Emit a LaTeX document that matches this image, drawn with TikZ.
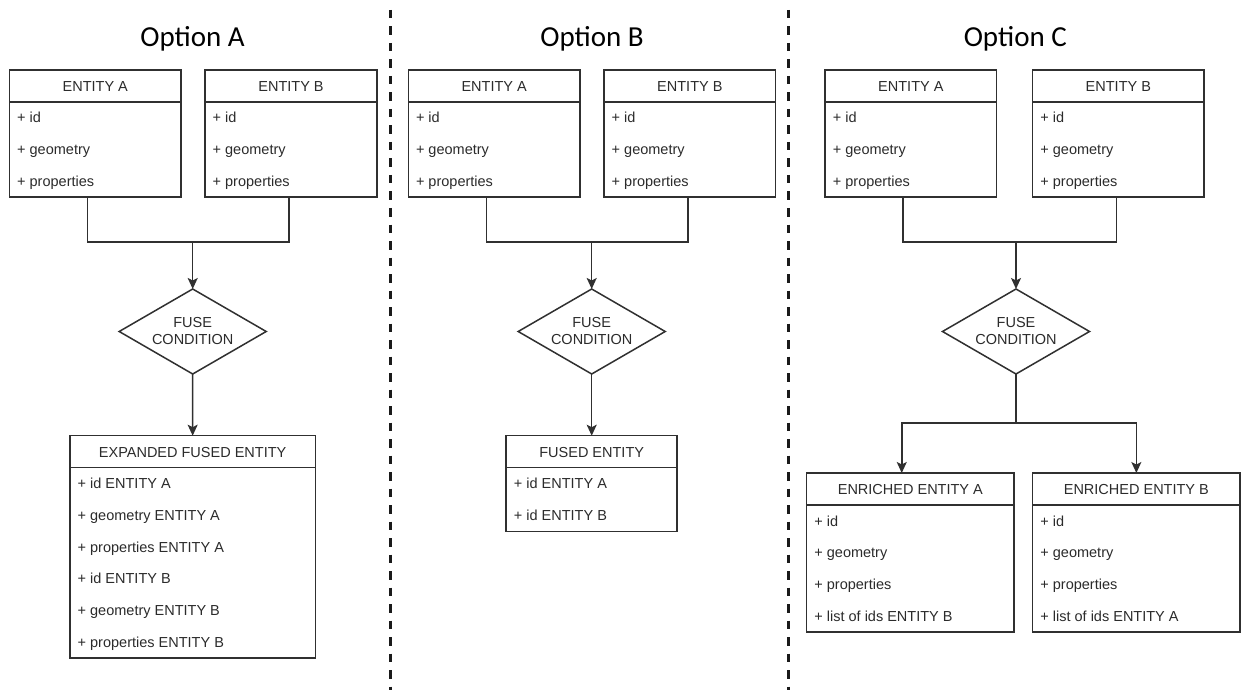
\documentclass[tikz,border=0pt]{standalone}
\usepackage{fontspec}
\usetikzlibrary{shapes.geometric,arrows.meta}
\newfontfamily\diafont{Liberation Sans}
\newfontfamily\titlefont{Carlito}
\definecolor{ink}{HTML}{2B2B2B}
\definecolor{frame}{HTML}{303030}
\definecolor{sepline}{HTML}{1A1A1A}

\tikzset{
  edge/.style={draw=frame, line width=1.5pt},
  flow/.style={edge, -{Stealth[length=11pt,width=10pt,inset=2.5pt]}},
  entitybox/.style={draw=frame, line width=1.5pt, rectangle, inner sep=0pt,
    outer sep=0pt, anchor=north west},
  headtext/.style={font=\diafont\fontsize{14.5}{17}\selectfont, text=ink,
    inner sep=0pt, anchor=base},
  rowtext/.style={font=\diafont\fontsize{14.5}{17}\selectfont, text=ink,
    inner sep=0pt, anchor=base west},
  cond/.style={diamond, aspect=1.73, draw=frame, line width=1.5pt,
    minimum width=147pt, minimum height=85pt, inner sep=0pt, outer sep=0pt,
    align=center, font=\diafont\fontsize{14.5}{17}\selectfont, text=ink},
  optiontitle/.style={font=\titlefont\fontsize{29}{34}\selectfont,
    inner sep=0pt, anchor=base},
  divider/.style={draw=sepline, line width=2.2pt, dash pattern=on 8.5pt off 8pt},
}

% #1 name, #2 left, #3 top, #4 width, #5 height, #6 title, #7 attribute rows
\newcommand{\entitytable}[7]{%
  \node[entitybox, minimum width=#4pt, minimum height=#5pt] (#1) at (#2,#3) {};
  \draw[edge] ([yshift=-32pt]#1.north west) -- ([yshift=-32pt]#1.north east);
  \node[headtext] (#1-h) at ([yshift=-21.5pt]#1.north) {#6};
  \foreach \r [count=\i] in {#7} {
    \node[rowtext] (#1-\i) at ([xshift=7.5pt, yshift={-53pt-(\i-1)*31.7pt}]#1.north west) {\r};
  }%
}

\begin{document}
\begin{tikzpicture}[x=1pt, y=-1pt]
\useasboundingbox (0,0) rectangle (1243,690);
\fill[white] (0,0) rectangle (1243,690);

% column dividers
\draw[divider] (390.5,10) -- (390.5,690);
\draw[divider] (788.5,10) -- (788.5,690);

% ---------- Option A ----------
\node[optiontitle] (tA) at (192.5,46.5) {Option A};
\entitytable{aEA}{9.5}{70}{171.5}{127}{ENTITY A}{+ id, + geometry, + properties}
\entitytable{aEB}{205}{70}{172}{127}{ENTITY B}{+ id, + geometry, + properties}
\node[cond] (aC) at (192.7,331.5) {FUSE\\CONDITION};
\entitytable{aF}{70}{435.7}{245.3}{222.2}{EXPANDED FUSED ENTITY}{+ id ENTITY A, + geometry ENTITY A, + properties ENTITY A, + id ENTITY B, + geometry ENTITY B, + properties ENTITY B}
\coordinate (jA) at (192.7,242);
\draw[edge] ([xshift=78pt]aEA.south west) |- (jA);
\draw[edge] ([xshift=84pt]aEB.south west) |- (jA);
\draw[flow] (jA) -- (aC.north);
\draw[flow] (aC.south) -- (aF.north);

% ---------- Option B ----------
\node[optiontitle] (tB) at (592,46.5) {Option B};
\entitytable{bEA}{408.3}{70}{171.7}{127}{ENTITY A}{+ id, + geometry, + properties}
\entitytable{bEB}{604}{70}{171.7}{127}{ENTITY B}{+ id, + geometry, + properties}
\node[cond] (bC) at (591.7,331.5) {FUSE\\CONDITION};
\entitytable{bF}{506.2}{435.7}{171}{96}{FUSED ENTITY}{+ id ENTITY A, + id ENTITY B}
\coordinate (jB) at (591.7,242);
\draw[edge] ([xshift=78pt]bEA.south west) |- (jB);
\draw[edge] ([xshift=84pt]bEB.south west) |- (jB);
\draw[flow] (jB) -- (bC.north);
\draw[flow] (bC.south) -- (bF.north);

% ---------- Option C ----------
\node[optiontitle] (tC) at (1015.3,46.5) {Option C};
\entitytable{cEA}{825.2}{70}{171.3}{127}{ENTITY A}{+ id, + geometry, + properties}
\entitytable{cEB}{1032.7}{70}{171.3}{127}{ENTITY B}{+ id, + geometry, + properties}
\node[cond] (cC) at (1016,331.5) {FUSE\\CONDITION};
\entitytable{cRA}{806.7}{473}{207.3}{158.8}{ENRICHED ENTITY A}{+ id, + geometry, + properties, + list of ids ENTITY B}
\entitytable{cRB}{1032.7}{473}{207.3}{158.8}{ENRICHED ENTITY B}{+ id, + geometry, + properties, + list of ids ENTITY A}
\coordinate (jC) at (1016,242);
\coordinate (sC) at (1016,423);
\draw[edge] ([xshift=78pt]cEA.south west) |- (jC);
\draw[edge] ([xshift=84pt]cEB.south west) |- (jC);
\draw[flow] (jC) -- (cC.north);
\draw[edge] (cC.south) -- (sC);
\draw[flow] (sC) -| ([xshift=-8.6pt]cRA.north);
\draw[flow] (sC) -| (cRB.north);
\end{tikzpicture}
\end{document}
